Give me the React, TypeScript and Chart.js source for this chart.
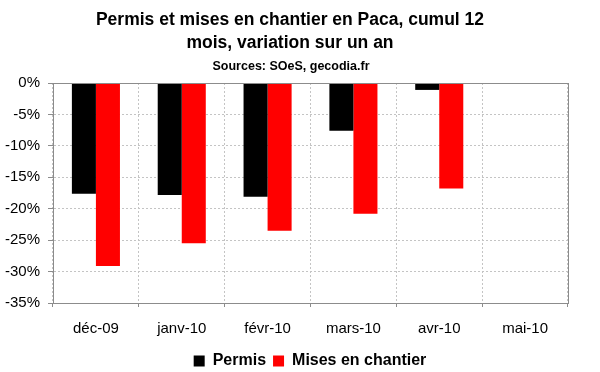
import React, { useEffect, useRef } from "react";
import { Chart, registerables } from "chart.js";

Chart.register(...registerables);

const categories = ["déc-09", "janv-10", "févr-10", "mars-10", "avr-10", "mai-10"];
const permis: (number | null)[] = [-17.6, -17.8, -18.1, -7.6, -1.1, null];
const misesEnChantier: (number | null)[] = [-29.1, -25.5, -23.5, -20.8, -16.8, null];
const titleLines = ["Permis et mises en chantier en Paca, cumul 12", "mois, variation sur un an"];
const subtitleText = "Sources: SOeS, gecodia.fr";

const FONT = "'Liberation Sans', Arial, sans-serif";

const titlePlugin = {
  id: "customTitle",
  afterDraw(chart: any) {
    const ctx = chart.ctx;
    ctx.save();
    ctx.fillStyle = "#000";
    ctx.textAlign = "center";
    ctx.textBaseline = "middle";
    ctx.font = `bold 17.5px ${FONT}`;
    ctx.fillText(titleLines[0], 290, 20);
    ctx.fillText(titleLines[1], 290, 43);
    ctx.font = `bold 12.5px ${FONT}`;
    ctx.fillText(subtitleText, 291, 67);
    ctx.restore();
  },
};

const layoutPlugin = {
  id: "plotBorder",
  beforeLayout(chart: any) {
    const lg = chart.legend;
    if (lg && !lg.__patched) {
      const orig = lg.fit;
      lg.fit = function (this: any) {
        orig.call(this);
        this.height = 34;
      };
      lg.__patched = true;
    }
  },
  beforeDraw(chart: any) {
    const lg = chart.legend;
    if (lg) {
      lg.left = 52;
      lg.right = 568;
      lg.top += 8;
      lg.bottom += 8;
    }
  },
  afterDraw(chart: any) {
    const { ctx, chartArea } = chart;
    ctx.save();
    ctx.strokeStyle = "#8c8c8c";
    ctx.lineWidth = 1;
    ctx.strokeRect(
      Math.round(chartArea.left) + 0.5,
      Math.round(chartArea.top) + 0.5,
      Math.round(chartArea.right - chartArea.left),
      Math.round(chartArea.bottom - chartArea.top)
    );
    ctx.restore();
  },
};

export default function App() {
  const ref = useRef<HTMLCanvasElement>(null);
  useEffect(() => {
    if (!ref.current) return;
    const chart = new Chart(ref.current, {
      type: "bar",
      data: {
        labels: categories,
        datasets: [
          {
            label: "Permis",
            data: permis,
            backgroundColor: "#000000",
            borderWidth: 0,
            categoryPercentage: 0.56,
            barPercentage: 1,
          },
          {
            label: "Mises en chantier",
            data: misesEnChantier,
            backgroundColor: "#ff0000",
            borderWidth: 0,
            categoryPercentage: 0.56,
            barPercentage: 1,
          },
        ],
      },
      plugins: [titlePlugin, layoutPlugin],
      options: {
        animation: false,
        responsive: false,
        maintainAspectRatio: false,
        layout: { padding: { top: 83, left: 0, right: 0, bottom: 0 } },
        plugins: {
          title: { display: false },
          tooltip: { enabled: false },
          legend: {
            display: true,
            position: "bottom",
            labels: {
              color: "#000",
              font: { family: FONT, size: 16, weight: "bold" },
              boxWidth: 11,
              boxHeight: 11,
              padding: 7,
            },
          },
        },
        scales: {
          x: {
            afterFit: (s: any) => {
              s.height = 35;
            },
            grid: {
              display: true,
              offset: true,
              color: "#c4c4c4",
              tickColor: "#8c8c8c",
              tickBorderDash: [],
              tickLength: 4,
            } as any,
            border: { display: true, color: "#8c8c8c", dash: [2, 2] } as any,
            ticks: {
              color: "#000",
              font: { family: FONT, size: 15 },
              padding: 13,
              maxRotation: 0,
            },
          },
          y: {
            min: -35,
            max: 0,
            afterFit: (s: any) => {
              s.width = 53;
            },
            grid: {
              color: "#c4c4c4",
              tickColor: "#8c8c8c",
              tickLength: 5,
              tickBorderDash: [],
            } as any,
            border: { display: true, color: "#8c8c8c", dash: [2, 2] } as any,
            ticks: {
              stepSize: 5,
              color: "#000",
              font: { family: FONT, size: 15 },
              padding: 8,
              callback: (v: any) => `${v}%`,
            },
          },
          yRight: {
            position: "right",
            display: true,
            afterFit: (s: any) => {
              s.width = 32;
            },
            grid: { drawOnChartArea: false, display: false },
            border: { display: false },
            ticks: { display: false },
          },
        },
      } as any,
    });
    return () => chart.destroy();
  }, []);
  return (
    <div style={{ position: "fixed", left: 0, top: 0, width: 600, height: 372, background: "#fff" }}>
      <canvas ref={ref} width={600} height={372} />
    </div>
  );
}
